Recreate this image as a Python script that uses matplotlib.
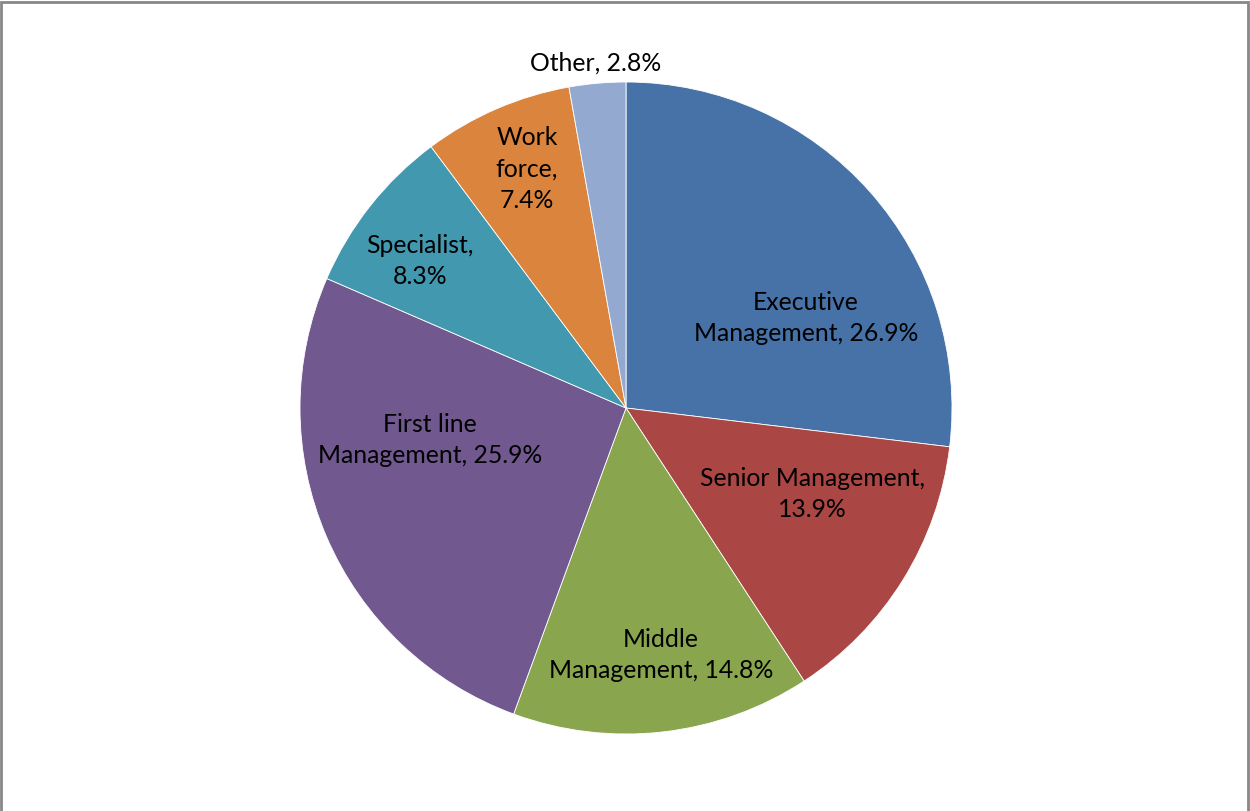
import matplotlib
matplotlib.use("Agg")
import matplotlib.pyplot as plt
from matplotlib.patches import Rectangle

categories = ["Executive\nManagement", "Senior Management", "Middle\nManagement", "First line\nManagement",
              "Specialist", "Work\nforce", "Other"]
values = [26.9, 13.9, 14.8, 25.9, 8.3, 7.4, 2.8]
colors = ["#4672A8", "#AA4643", "#89A54E", "#71588F", "#4198AF", "#DB843D", "#93A9CF"]

# separator between category and value in each label
separators = [", ", ",\n", ", ", ", ", ",\n", ",\n", ", "]
# label centres in pixel layout (x, y from top)
label_px = [(806, 318), (812, 494), (661, 655), (430, 440), (420, 261), (527, 169), (596, 63)]

W, H = 1250, 811
cx, cy, R = 626, 408, 326

fig = plt.figure(figsize=(W / 100, H / 100), dpi=100)
fig.patch.set_facecolor("white")
ax = fig.add_axes([(cx - R) / W, (H - cy - R) / H, 2 * R / W, 2 * R / H])

wedges, _ = ax.pie(values, colors=colors, startangle=90, counterclock=False, radius=1,
                   wedgeprops=dict(edgecolor="white", linewidth=0.6))
ax.set_xlim(-1, 1)
ax.set_ylim(-1, 1)
ax.set_aspect("equal")
ax.axis("off")

for cat, val, sep, (px, py) in zip(categories, values, separators, label_px):
    x = (px - cx) / R
    y = (cy - py) / R
    ax.text(x, y, f"{cat}{sep}{val}%", ha="center", va="center", fontsize=17.8, family="Lato",
            color="black", linespacing=1.45, clip_on=False)

fig.add_artist(Rectangle((1.5 / W, -0.01), (W - 3.5) / W, 1 - 1.5 / H + 0.01, transform=fig.transFigure,
                         fill=False, edgecolor="#878787", linewidth=2))

fig.savefig("out.png", dpi=100)
